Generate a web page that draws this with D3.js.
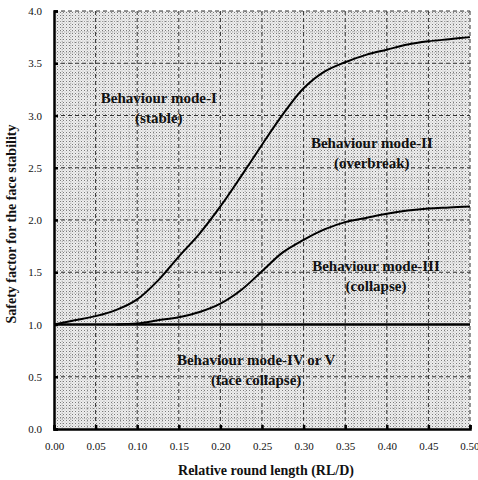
<!DOCTYPE html>
<html><head><meta charset="utf-8">
<script src="https://cdn.jsdelivr.net/npm/d3@7/dist/d3.min.js"></script>
<style>body{margin:0;background:#fff}svg{display:block}</style>
</head><body><svg id="c" width="478" height="480"></svg>
<script>
const xTicks = [0.00,0.05,0.10,0.15,0.20,0.25,0.30,0.35,0.40,0.45,0.50];
const yTicks = [0.0,0.5,1.0,1.5,2.0,2.5,3.0,3.5,4.0];
const upperX = [0,0.025,0.05,0.075,0.10,0.125,0.15,0.175,0.20,0.225,0.25,0.275,0.30,0.325,0.35,0.375,0.40,0.425,0.45,0.475,0.50];
const upperY = [1.00,1.04,1.08,1.14,1.24,1.42,1.65,1.87,2.13,2.42,2.72,3.01,3.26,3.42,3.51,3.58,3.63,3.68,3.71,3.73,3.75];
const lowerX = [0.075,0.10,0.125,0.15,0.175,0.20,0.225,0.25,0.275,0.30,0.325,0.35,0.375,0.40,0.425,0.45,0.475,0.50];
const lowerY = [1.00,1.01,1.04,1.07,1.12,1.20,1.33,1.51,1.69,1.81,1.91,1.98,2.02,2.06,2.09,2.11,2.12,2.13];
const limitX = [0,0.50];
const limitY = [1.0,1.0];
const labels = [
  {t:"Behaviour mode-I", x:0.126, y:3.12},
  {t:"(stable)", x:0.126, y:2.93},
  {t:"Behaviour mode-II", x:0.382, y:2.69},
  {t:"(overbreak)", x:0.382, y:2.50},
  {t:"Behaviour mode-III", x:0.387, y:1.51},
  {t:"(collapse)", x:0.387, y:1.32},
  {t:"Behaviour mode-IV or V", x:0.243, y:0.61},
  {t:"(face collapse)", x:0.243, y:0.42}
];

const svg = d3.select("#c");
const x = d3.scaleLinear().domain([0,0.5]).range([54,470]);
const y = d3.scaleLinear().domain([0,4]).range([429,11]);
const font = "'Liberation Serif','Times New Roman',serif";

const defs = svg.append("defs");
const pat = defs.append("pattern").attr("id","dots").attr("width",3).attr("height",3).attr("patternUnits","userSpaceOnUse");
pat.append("rect").attr("width",3).attr("height",3).attr("fill","#eeeeee");
pat.append("rect").attr("width",1).attr("height",1).attr("fill","#7a7a7a");
pat.append("rect").attr("x",1.5).attr("y",1.5).attr("width",1).attr("height",1).attr("fill","#bdbdbd");

svg.append("rect").attr("x",x(0)).attr("y",y(4)).attr("width",x(0.5)-x(0)).attr("height",y(0)-y(4)).attr("fill","url(#dots)");

// minor grid
const minorX = d3.range(1,50).map(i=>i/100).filter(v=>Math.round(v*100)%5!==0);
const minorY = d3.range(1,40).map(i=>i/10).filter(v=>Math.round(v*10)%5!==0);
svg.append("g").selectAll("line").data(minorX).join("line")
  .attr("x1",d=>x(d)).attr("x2",d=>x(d)).attr("y1",y(4)).attr("y2",y(0))
  .attr("stroke","#a8a8a8").attr("stroke-width",0.8).attr("stroke-dasharray","1,1");
svg.append("g").selectAll("line").data(minorY).join("line")
  .attr("y1",d=>y(d)).attr("y2",d=>y(d)).attr("x1",x(0)).attr("x2",x(0.5))
  .attr("stroke","#a8a8a8").attr("stroke-width",0.8).attr("stroke-dasharray","1,1");

// major grid
svg.append("g").selectAll("line").data(xTicks.slice(1)).join("line")
  .attr("x1",d=>x(d)).attr("x2",d=>x(d)).attr("y1",y(4)).attr("y2",y(0))
  .attr("stroke","#333").attr("stroke-width",1).attr("stroke-dasharray","4,3");
svg.append("g").selectAll("line").data(yTicks.slice(1)).join("line")
  .attr("y1",d=>y(d)).attr("y2",d=>y(d)).attr("x1",x(0)).attr("x2",x(0.5))
  .attr("stroke","#333").attr("stroke-width",1).attr("stroke-dasharray","4,3");

// axes
const xAxis = d3.axisBottom(x).tickValues(xTicks).tickFormat(d3.format(".2f")).tickSize(-4).tickPadding(13);
const yAxis = d3.axisLeft(y).tickValues(yTicks).tickFormat(d3.format(".1f")).tickSize(-4).tickPadding(12);
const gx = svg.append("g").attr("transform",`translate(0,${y(0)})`).call(xAxis);
const gy = svg.append("g").attr("transform",`translate(${x(0)},0)`).call(yAxis);
[gx,gy].forEach(g=>{
  g.select(".domain").attr("stroke","#000").attr("stroke-width",2.5);
  g.selectAll(".tick line").attr("stroke","#000").attr("stroke-width",2.5);
  g.selectAll(".tick text").attr("font-family",font).attr("font-size",11).attr("fill","#111");
});
gx.selectAll(".tick text").filter(d=>d===0.5).attr("text-anchor","end").attr("dx","9");

// curves
const line = d3.line().x(d=>x(d[0])).y(d=>y(d[1])).curve(d3.curveCatmullRom.alpha(0.5));
svg.append("path").datum(limitX.map((v,i)=>[v,limitY[i]])).attr("d",line)
  .attr("fill","none").attr("stroke","#000").attr("stroke-width",2.5);
svg.append("path").datum(lowerX.map((v,i)=>[v,lowerY[i]])).attr("d",line)
  .attr("fill","none").attr("stroke","#000").attr("stroke-width",2);
svg.append("path").datum(upperX.map((v,i)=>[v,upperY[i]])).attr("d",line)
  .attr("fill","none").attr("stroke","#000").attr("stroke-width",2);

// region labels
svg.append("g").selectAll("text").data(labels).join("text")
  .attr("x",d=>x(d.x)).attr("y",d=>y(d.y)).attr("text-anchor","middle")
  .attr("font-family",font).attr("font-weight","bold").attr("font-size",15).attr("fill","#111")
  .text(d=>d.t);

// axis titles
svg.append("text").attr("x",266).attr("y",475).attr("text-anchor","middle")
  .attr("font-family",font).attr("font-weight","bold").attr("font-size",14).attr("fill","#111")
  .text("Relative round length (RL/D)");
svg.append("text").attr("transform","translate(16,224) rotate(-90)").attr("text-anchor","middle")
  .attr("font-family",font).attr("font-weight","bold").attr("font-size",14).attr("fill","#111")
  .text("Safety factor for the face stability");
</script></body></html>
